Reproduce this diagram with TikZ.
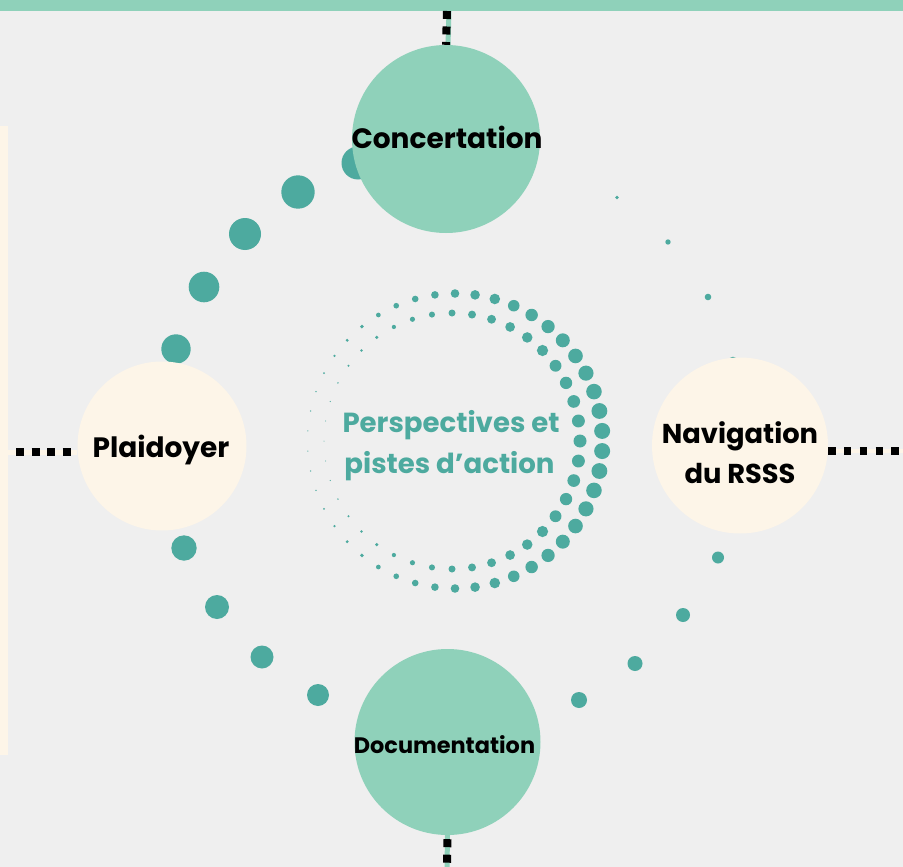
\documentclass[tikz,border=0pt]{standalone}
\usepackage{fontspec}
\setmainfont{Poppins}
\definecolor{bggray}{HTML}{EFEFEF}
\definecolor{mintgreen}{HTML}{8FD1BA}
\definecolor{dotteal}{HTML}{4DAA9F}
\definecolor{creamc}{HTML}{FDF5E8}
\begin{document}
\begin{tikzpicture}[x=1pt,y=-1pt,
  bubble/.style={circle, inner sep=0pt, minimum size=#1},
  minttheme/.style={fill=mintgreen},
  creamtheme/.style={fill=creamc},
  lbl/.style={anchor=base, inner sep=0pt, font=\bfseries\fontsize{28}{30}\selectfont},
  centrelbl/.style={anchor=base, inner sep=0pt, text=dotteal, font=\bfseries\fontsize{27.6}{30}\selectfont},
  blackdash/.style={draw=black, line width=8pt, dash pattern=on 8pt off 7.5pt},
  spot/.style={fill=dotteal}
]
% canvas
\fill[bggray] (0,0) rectangle (903,867);
\useasboundingbox (0,0) rectangle (903,867);
% top band and left side bar
\fill[mintgreen] (0,0) rectangle (903,11);
\fill[creamc] (0,126) rectangle (8,755);

% free ends of the connectors
\coordinate (topend) at (447,11);
\coordinate (botend) at (447,867);
\coordinate (leftend) at (0,452);
\coordinate (leftdash) at (16,452);
\coordinate (rightend) at (903,451);

% outer ring of the central motif: 46 dots, growing towards the right
\foreach \k in {0,...,45} {
  \pgfmathsetmacro\a{(\k+0.5)*360/46}
  \pgfmathsetmacro\rr{0.6+3.7*(1+cos(\a))}
  \fill[spot, shift={(455,441)}] (\a:147.5) circle[radius=\rr];
}
% inner ring: 40 dots
\foreach \k in {0,...,39} {
  \pgfmathsetmacro\a{\k*9}
  \pgfmathsetmacro\rr{0.5+3.0*(1+cos(\a))}
  \fill[spot, shift={(452,441)}] (\a:128) circle[radius=\rr];
}

% spiral of dots around the four bubbles
\foreach \x/\y/\r in {358/163/16.5, 298/192/16.7, 245/234/16, 204/287/15.3,
    176/349/14.7, 184/548/12.7, 217/607/12, 262/657/11.5, 318/695/11,
    579/700/8, 635/663.5/7.5, 683/615/7, 718/557.5/6, 733/361/4.3,
    708/297/3.3, 668/242/2.7, 617/197.5/1.8}
  \fill[spot] (\x,\y) circle[radius=\r];

% the four bubbles
\node[bubble=188pt, minttheme] (conc) at (446,139) {};
\node[bubble=186pt, minttheme] (docu) at (447.5,742) {};
\node[bubble=169pt, creamtheme] (plai) at (162,446) {};
\node[bubble=176pt, creamtheme] (navi) at (740,445.5) {};

% connectors
\draw[mintgreen, line width=5pt] ([xshift=2pt]topend) -- ([xshift=2pt]conc.north);
\draw[blackdash] (topend) -- (conc.north);
\draw[mintgreen, line width=5pt] (docu.south) -- (botend);
\draw[blackdash] ([yshift=-4pt]docu.south) -- (botend);
\draw[creamc, line width=5pt] (leftend) -- (leftend -| plai.west);
\draw[blackdash] (leftdash) -- (leftdash -| plai.west);
\draw[creamc, line width=3.5pt] (navi.east |- rightend) -- (rightend);
\draw[black, line width=7.3pt, dash pattern=on 7.3pt off 8.5pt] (navi.east |- rightend) -- (rightend);

% labels
\node[lbl] (conct) at (447,148.3) {Concertation};
\node[lbl] (plait) at (161,457) {Plaidoyer};
\node[lbl, font=\bfseries\fontsize{27.3}{30}\selectfont] (navt1) at (740,443) {Navigation};
\node[lbl, font=\bfseries\fontsize{27.3}{30}\selectfont] (navt2) at (740,483) {du RSSS};
\node[lbl, font=\bfseries\fontsize{22.4}{26}\selectfont] (doct) at (444.5,753) {Documentation};
\node[centrelbl] (persp1) at (451,432.3) {Perspectives et};
\node[centrelbl] (persp2) at (449.5,473.3) {pistes d’action};
\end{tikzpicture}
\end{document}
